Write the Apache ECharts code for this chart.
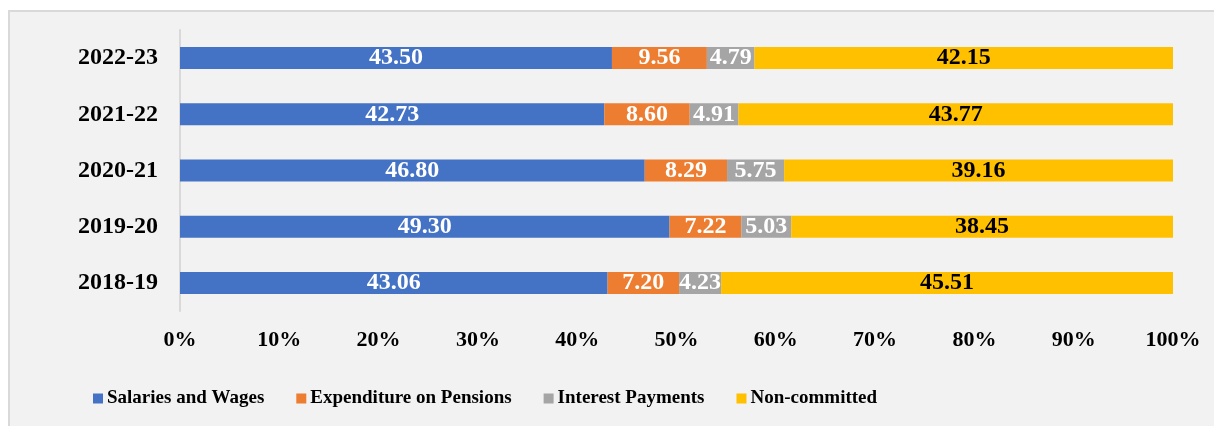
<!DOCTYPE html>
<html><head><meta charset="utf-8">
<script src="https://cdn.jsdelivr.net/npm/echarts@6/dist/echarts.min.js"></script>
<style>html,body{margin:0;padding:0;background:#fff}#c{width:1214px;height:426px}</style>
</head><body><div id="c"></div>
<script>
const years = ['2018-19', '2019-20', '2020-21', '2021-22', '2022-23'];
const salaries = [43.06, 49.30, 46.80, 42.73, 43.50];
const pensions = [7.20, 7.22, 8.29, 8.60, 9.56];
const interest = [4.23, 5.03, 5.75, 4.91, 4.79];
const nonCommitted = [45.51, 38.45, 39.16, 43.77, 42.15];
const xTicks = [0, 10, 20, 30, 40, 50, 60, 70, 80, 90, 100];

const font = '"Liberation Serif", "Times New Roman", serif';
function mk(name, data, color, labelColor) {
  return {
    name, type: 'bar', stack: 'total', data, barWidth: 22,
    itemStyle: { color },
    label: { show: true, position: 'inside', color: labelColor, fontFamily: font, fontWeight: 'bold', fontSize: 24,
      formatter: p => p.value.toFixed(2) }
  };
}
const chart = echarts.init(document.getElementById('c'));
chart.setOption({
  backgroundColor: '#ffffff',
  animation: false,
  graphic: [{ type: 'rect', z: -10, shape: { x: 9, y: 11, width: 1220, height: 430 },
    style: { fill: '#f2f2f2', stroke: '#d9d9d9', lineWidth: 2 } }],
  grid: { left: 180, right: 41, top: 30, bottom: 115 },
  xAxis: { type: 'value', min: xTicks[0], max: xTicks[xTicks.length - 1], interval: 10,
    axisLine: { show: false }, axisTick: { show: false }, splitLine: { show: false },
    axisLabel: { formatter: '{value}%', fontFamily: font, fontWeight: 'bold', fontSize: 22, color: '#000', margin: 18 } },
  yAxis: { type: 'category', data: years,
    axisLine: { show: true, lineStyle: { color: '#d9d9d9', width: 2 } }, axisTick: { show: false },
    axisLabel: { fontFamily: font, fontWeight: 'bold', fontSize: 24, color: '#000', margin: 22 } },
  legend: { left: 88, top: 384, itemWidth: 10, itemHeight: 10, itemGap: 32, icon: 'rect',
    textStyle: { fontFamily: font, fontWeight: 'bold', fontSize: 19, color: '#000', padding: [0, 0, 0, -1] } },
  series: [
    mk('Salaries and Wages', salaries, '#4472c4', '#fff'),
    mk('Expenditure on Pensions', pensions, '#ed7d31', '#fff'),
    mk('Interest Payments', interest, '#a5a5a5', '#fff'),
    mk('Non-committed', nonCommitted, '#ffc000', '#000')
  ]
});
</script></body></html>
